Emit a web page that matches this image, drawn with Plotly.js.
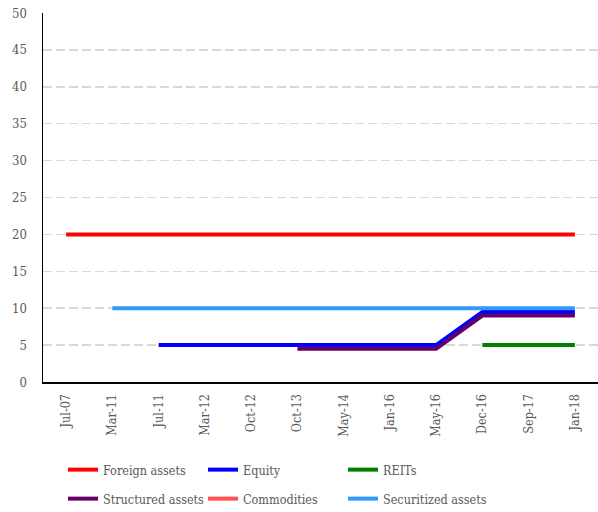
<!DOCTYPE html>
<html>
<head>
<meta charset="utf-8">
<script src="https://cdn.plot.ly/plotly-3.0.1.min.js"></script>
<style>html,body{margin:0;padding:0;background:#fff;}#chart{width:598px;height:512px;}</style>
</head>
<body>
<div id="chart"></div>
<script>
var categories = ['Jul-07','Mar-11','Jul-11','Mar-12','Oct-12','Oct-13','May-14','Jan-16','May-16','Dec-16','Sep-17','Jan-18'];
var foreignAssets = [20,20,20,20,20,20,20,20,20,20,20,20];
var equity = [null,null,5,5,5,5,5,5,5,9.5,9.5,9.5];
var reits = [null,null,null,null,null,null,null,null,null,5,5,5];
var structuredAssets = [null,null,null,null,null,4.5,4.5,4.5,4.5,9,9,9];
var commodities = [null,null,null,null,null,null,null,null,null,null,null,null];
var securitizedAssets = [null,10,10,10,10,10,10,10,10,10,10,10];
var yTicks = [0,5,10,15,20,25,30,35,40,45,50];

function tr(name, y, color, legend) {
  return {x: categories, y: y, name: name, type: 'scatter', mode: 'lines',
    line: {color: color, width: 4}, legend: legend, connectgaps: false};
}
var data = [
  tr('Foreign assets', foreignAssets, '#FF0000', 'legend'),
  tr('Equity', equity, '#0000FF', 'legend2'),
  tr('REITs', reits, '#008000', 'legend3'),
  tr('Structured assets', structuredAssets, '#660066', 'legend4'),
  tr('Commodities', commodities, '#FF5050', 'legend5'),
  tr('Securitized assets', securitizedAssets, '#3399FF', 'legend6')
];
var FAM = '"DejaVu Serif Condensed", "DejaVu Serif", serif';
var font = {family: FAM, size: 12.5, color: '#595959'};
function leg(px, py) {
  return {orientation: 'h', xref: 'container', yref: 'container', x: px/598, xanchor: 'left',
    y: 1 - py/512, yanchor: 'middle', font: font, bgcolor: 'rgba(0,0,0,0)', itemwidth: 30};
}
var layout = {
  width: 598, height: 512,
  margin: {l: 43, r: 0, t: 13, b: 130},
  paper_bgcolor: '#ffffff', plot_bgcolor: '#ffffff',
  font: font,
  showlegend: true,
  xaxis: {type: 'category', range: [-0.5, 11.5], showgrid: false, zeroline: false,
    showline: true, linecolor: '#000000', linewidth: 2, ticks: '', tickangle: -90,
    tickfont: {family: FAM, size: 12.5, color: '#595959'},
    ticklabelstandoff: 5, fixedrange: true},
  yaxis: {range: [0, 50], tickvals: yTicks, ticktext: yTicks.map(String), showgrid: true,
    gridcolor: '#d9d9d9', gridwidth: 1.5, griddash: '9px,4px', zeroline: false,
    showline: true, linecolor: '#000000', linewidth: 1.5, ticks: '',
    tickfont: {family: FAM, size: 13, color: '#595959'},
    ticklabelstandoff: 12, fixedrange: true},
  legend: leg(63, 470),
  legend2: leg(203, 470),
  legend3: leg(343, 470),
  legend4: leg(63, 499),
  legend5: leg(203, 499),
  legend6: leg(343, 499)
};
Plotly.newPlot('chart', data, layout, {staticPlot: true, displayModeBar: false});
</script>
</body>
</html>
